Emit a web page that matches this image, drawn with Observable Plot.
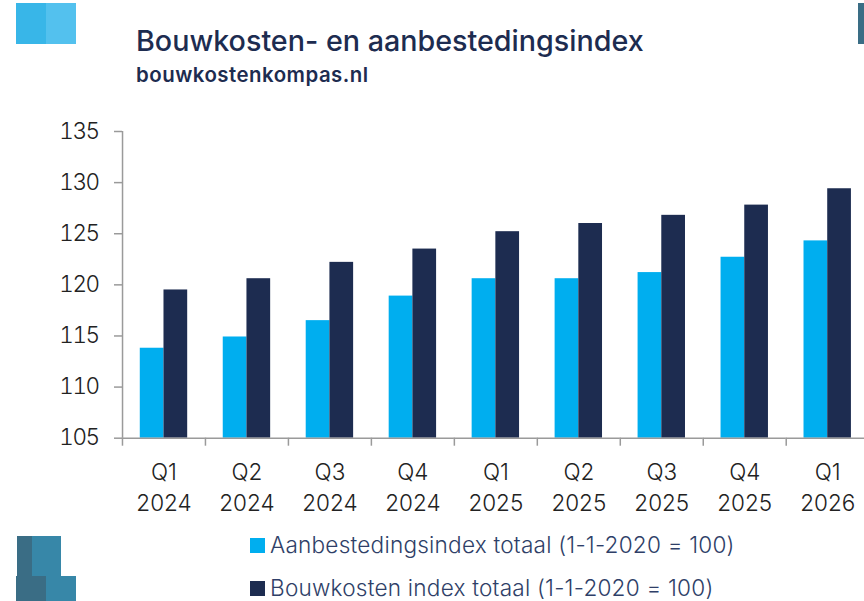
<!DOCTYPE html>
<html><head><meta charset="utf-8">
<script src="https://cdn.jsdelivr.net/npm/d3@7"></script>
<script src="https://cdn.jsdelivr.net/npm/@observablehq/plot@0.6"></script>
<style>
html,body{margin:0;padding:0;width:864px;height:601px;overflow:hidden;background:#fff}
#wrap{position:relative;width:864px;height:601px;overflow:hidden;font-family:Inter,sans-serif}
.deco{position:absolute}
#title{position:absolute;left:136px;top:22px;font-size:28.7px;line-height:38px;font-weight:500;color:#1d2c50;white-space:nowrap}
#sub{position:absolute;left:136px;top:62px;font-size:20.4px;line-height:26px;font-weight:600;color:#1d2c50;white-space:nowrap;letter-spacing:.5px}
#chart{position:absolute;left:0;top:120px}
.lg{position:absolute;left:250px;white-space:nowrap;font-size:22.6px;line-height:30px;font-weight:300;letter-spacing:.21px;color:#2f3f68}
.lg i{position:absolute;left:0;top:8px;width:15px;height:15px}
.lg span{position:absolute;left:20px;top:0}
.ylab text{letter-spacing:-1.5px;font-weight:300}
.xlab text{font-weight:300}
</style></head><body>
<div id="wrap">
<div class="deco" style="left:16px;top:3px;width:30px;height:41px;background:#38b6e8"></div>
<div class="deco" style="left:46px;top:3px;width:30px;height:41px;background:#53c1ee"></div>
<div class="deco" style="left:858px;top:3px;width:6px;height:41px;background:#3a6d85"></div>
<div class="deco" style="left:17px;top:536px;width:15px;height:40px;background:#3a6d85"></div>
<div class="deco" style="left:32px;top:536px;width:29px;height:40px;background:#3787a8"></div>
<div class="deco" style="left:16px;top:576px;width:30px;height:25px;background:#3a6d85"></div>
<div class="deco" style="left:46px;top:576px;width:30px;height:25px;background:#3787a8"></div>
<div id="title">Bouwkosten- en aanbestedingsindex</div>
<div id="sub">bouwkostenkompas.nl</div>
<div id="chart"></div>
<div class="lg" style="top:530px"><i style="background:#00aeef"></i><span>Aanbestedingsindex totaal (1-1-2020 = 100)</span></div>
<div class="lg" style="top:573px"><i style="background:#1d2c50"></i><span>Bouwkosten index totaal (1-1-2020 = 100)</span></div>
</div>
<script>
const quarters = ["Q1\n2024","Q2\n2024","Q3\n2024","Q4\n2024","Q1\n2025","Q2\n2025","Q3\n2025","Q4\n2025","Q1\n2026"];
const seriesNames = ["Aanbestedingsindex totaal (1-1-2020 = 100)","Bouwkosten index totaal (1-1-2020 = 100)"];
const aanbesteding = [113.8,114.9,116.5,118.9,120.6,120.6,121.2,122.7,124.3];
const bouwkosten = [119.5,120.6,122.2,123.5,125.2,126.0,126.8,127.8,129.4];
const colors = ["#00aeef","#1d2c50"];
const rows = quarters.flatMap((q,i)=>[
  {q,s:seriesNames[0],v:aanbesteding[i]},
  {q,s:seriesNames[1],v:bouwkosten[i]}
]);
const axisGray = "#9a9a9a";
const chart = Plot.plot({
  width:864,height:400,
  marginLeft:122,marginRight:-4.7,marginTop:11,marginBottom:82.3,
  style:{fontFamily:"Inter, sans-serif",background:"transparent",overflow:"visible"},
  fx:{domain:quarters,padding:0,round:false,axis:null,label:null},
  x:{domain:seriesNames,paddingInner:0,paddingOuter:0.75,round:false,axis:null,label:null},
  y:{domain:[105,135],label:null,axis:null},
  color:{domain:seriesNames,range:colors},
  marks:[
    Plot.barY(rows,{fx:"q",x:"s",y:"v",y1:105,y2:"v",fill:"s",inset:0}),
    Plot.ruleY([105],{stroke:axisGray,strokeWidth:1.5}),
    Plot.ruleX([seriesNames[0]],{fx:()=>quarters[0],y1:105,y2:135,stroke:axisGray,strokeWidth:1.5,dx:-29.6}),
    Plot.axisY({anchor:"left",ticks:[105,110,115,120,125,130,135],tickSize:8,stroke:axisGray,strokeWidth:1.5,text:null}),
    Plot.axisY({anchor:"left",ticks:[105,110,115,120,125,130,135],tickSize:0,tickPadding:24,fontSize:22.5,fill:"#222",label:null,tickFormat:d=>String(d),className:"ylab"}),
    Plot.axisFx({anchor:"bottom",tickSize:8,tickFormat:null,stroke:axisGray,strokeWidth:1.5,dx:-41.5,label:null}),
    Plot.axisFx({anchor:"bottom",tickSize:0,tickPadding:19,fontSize:22.5,lineHeight:1.4,fill:"#222",label:null,lineWidth:10,className:"xlab"})
  ]
});
document.getElementById("chart").appendChild(chart);
</script>
</body></html>
